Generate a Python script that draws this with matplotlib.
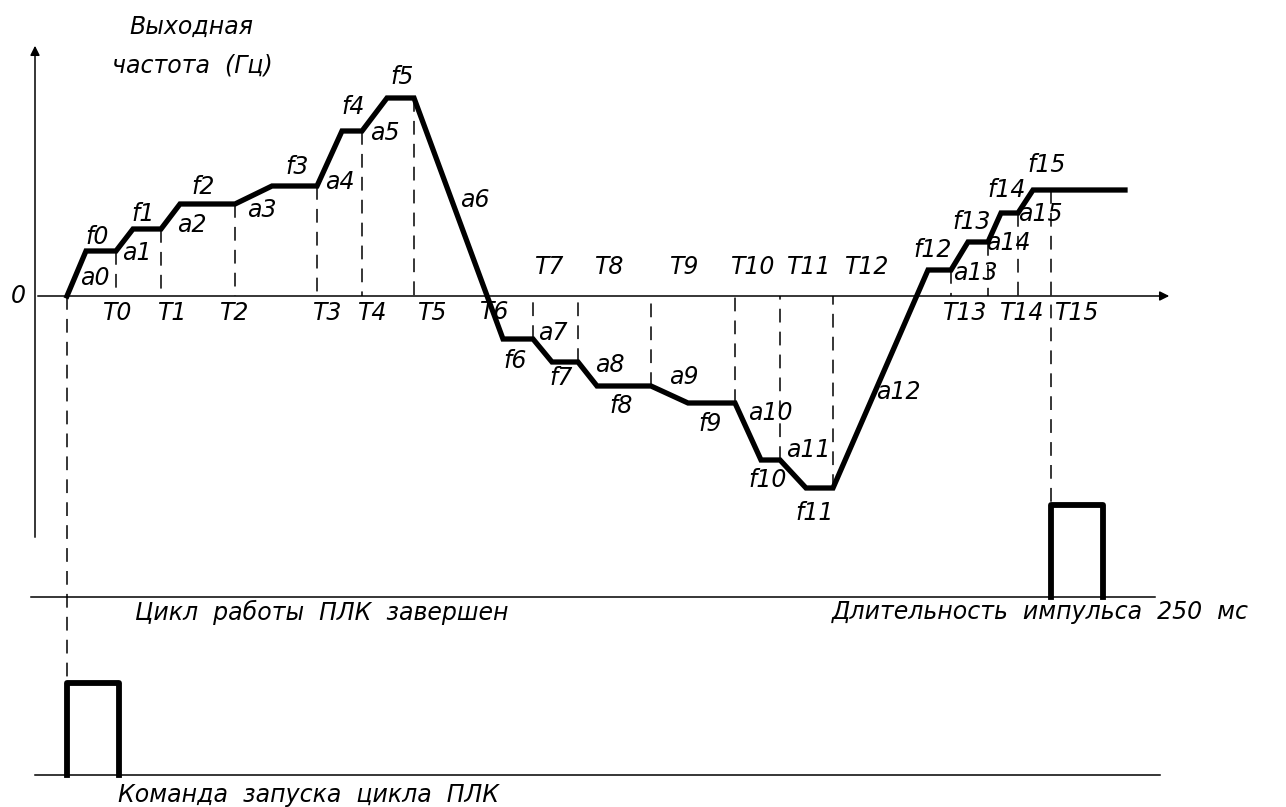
import matplotlib
matplotlib.use("Agg")
import matplotlib.pyplot as plt

plt.rcParams['font.family'] = ['Liberation Sans Narrow', 'DejaVu Sans']
plt.rcParams['font.style'] = 'italic'

# кривая выходной частоты: время (ось X) и частота (0 = ось времени)
curve_t = [67, 86, 116, 133, 161, 180, 235, 272, 317, 342, 362, 387, 414,
           503, 533, 552, 578, 597, 651, 688, 735, 761, 780, 806, 833,
           928, 951, 968, 988, 1001, 1018, 1033, 1125]
curve_f = [0, 45, 45, 67, 67, 92, 92, 110, 110, 165, 165, 198, 198,
           -43, -43, -66, -66, -90, -90, -107, -107, -164, -164, -192, -192,
           26, 26, 54, 54, 83, 83, 106, 106]

# концы ступеней (пунктир до оси)
step_t = [116, 161, 235, 317, 362, 414, 533, 578, 651, 735, 780, 833, 951, 988, 1018]
step_f = [45, 67, 92, 110, 165, 198, -43, -66, -90, -107, -164, -192, 26, 54, 83]

# импульсы
start_t, start_w, start_base = 67, 52, -479
done_t, done_w, done_base = 1051, 52, -301
pulse_h = 92

f_labels = [(97, 59), (143, 82), (203, 109), (297, 129), (353, 189), (402, 219),
            (515, -65), (561, -82), (621, -110), (710, -128), (768, -184), (815, -217),
            (933, 46), (972, 74), (1007, 106), (1047, 131)]
a_labels = [(95, 18), (137, 43), (192, 71), (262, 86), (340, 114), (385, 163),
            (475, 96), (553, -37), (610, -69), (684, -81), (770, -117), (808, -154),
            (898, -96), (975, 23), (1008, 53), (1040, 82)]
t_labels = [(118, -17), (173, -17), (235, -17), (328, -17), (373, -17), (433, -17),
            (495, -16), (550, 29), (610, 29), (685, 29), (753, 29), (809, 29),
            (867, 29), (965, -17), (1022, -17), (1077, -17)]

fig = plt.figure(figsize=(12.86, 8.07), dpi=100)
ax = fig.add_axes([0, 0, 1, 1])
ax.set_xlim(0, 1286)
ax.set_ylim(-511, 296)
ax.axis('off')

# оси
ax.annotate('', xy=(35, 253), xytext=(35, -244),
            arrowprops=dict(arrowstyle='-|>', lw=1.1, color='black', mutation_scale=14))
ax.annotate('', xy=(1172, 0), xytext=(35, 0),
            arrowprops=dict(arrowstyle='-|>', lw=1.1, color='black', mutation_scale=14))
ax.plot([31, 1155], [done_base, done_base], color='black', lw=1.1)
ax.plot([35, 1160], [start_base, start_base], color='black', lw=1.1)

# пунктиры
for t, f in zip(step_t, step_f):
    ax.plot([t, t], [f, 0], color='black', lw=1.1, dashes=(9, 6))
ax.plot([start_t, start_t], [0, start_base + pulse_h], color='black', lw=1.1, dashes=(9, 6))
ax.plot([done_t, done_t], [curve_f[-1], done_base + pulse_h], color='black', lw=1.1, dashes=(9, 6))

ax.plot(curve_t, curve_f, color='black', lw=3.8, solid_joinstyle='miter')

for t0, w, base in [(start_t, start_w, start_base), (done_t, done_w, done_base)]:
    ax.plot([t0, t0, t0 + w, t0 + w], [base, base + pulse_h, base + pulse_h, base],
            color='black', lw=4.2)

fs = 17
for i, (x, y) in enumerate(f_labels):
    ax.text(x, y, f'f{i}', fontsize=fs, ha='center', va='center')
for i, (x, y) in enumerate(a_labels):
    ax.text(x, y, f'a{i}', fontsize=fs, ha='center', va='center')
for i, (x, y) in enumerate(t_labels):
    ax.text(x, y, f'T{i}', fontsize=fs, ha='center', va='center')

ax.text(18, 0, '0', fontsize=fs, ha='center', va='center')
ax.text(191, 269, 'Выходная', fontsize=fs, ha='center', va='center')
ax.text(192, 231, 'частота  (Гц)', fontsize=fs, ha='center', va='center')
ax.text(135, -316, 'Цикл  работы  ПЛК  завершен', fontsize=fs, ha='left', va='center')
ax.text(832, -316, 'Длительность  импульса  250  мс', fontsize=fs, ha='left', va='center')
ax.text(118, -499, 'Команда  запуска  цикла  ПЛК', fontsize=fs, ha='left', va='center')

fig.savefig('out.png', dpi=100)
